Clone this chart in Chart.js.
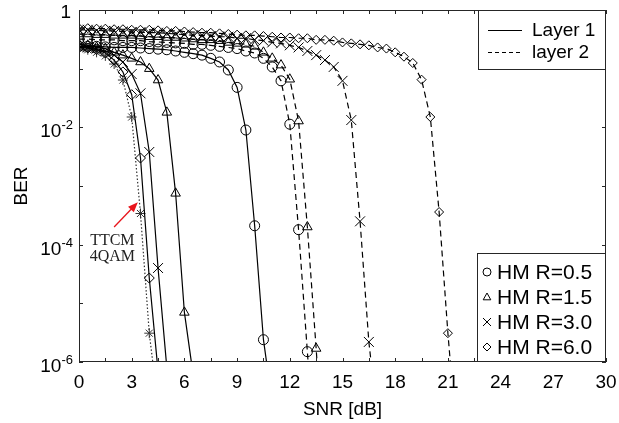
<!DOCTYPE html>
<html>
<head>
<meta charset="utf-8">
<script src="https://cdn.jsdelivr.net/npm/chart.js@4.4.1/dist/chart.umd.min.js"></script>
<style>
  html, body { margin: 0; padding: 0; background: #fff; }
  canvas { display: block; }
</style>
</head>
<body>
<canvas id="berChart" width="619" height="423"></canvas>
<script>
// SNR grid [dB] - one marker every 0.5 dB
const snr = [0,0.5,1,1.5,2,2.5,3,3.5,4,4.5,5,5.5,6,6.5,7,7.5,8,8.5,9,9.5,10,10.5,
             11,11.5,12,12.5,13,13.5,14,14.5,15,15.5,16,16.5,17,17.5,18,18.5,19,19.5,20,20.5,21,21.5];

// layer 1 (solid)
const l1R05 = [0.24,0.24,0.24,0.235,0.23,0.23,0.23,0.225,0.22,0.215,0.21,0.20,0.19,0.18,0.17,0.15,0.13,0.095,0.048,0.009,2.1e-4,2.4e-6,2e-7];
const l1R15 = [0.26,0.25,0.23,0.22,0.19,0.17,0.15,0.13,0.10,0.064,0.018,7.5e-4,7e-6,6e-7];
const l1R30 = [0.24,0.23,0.22,0.20,0.17,0.13,0.081,0.038,3.8e-3,4e-5,8e-7];
const l1R60 = [0.23,0.225,0.21,0.185,0.14,0.088,0.036,3e-3,2.7e-5,7e-7];

// layer 2 (dashed)
const l2R05 = [0.32,0.32,0.31,0.31,0.31,0.30,0.30,0.30,0.29,0.285,0.28,0.275,0.27,0.26,0.26,0.25,0.24,0.23,0.22,0.20,0.185,0.15,0.107,0.062,0.0113,1.8e-4,1.5e-6,1e-8];
const l2R15 = [0.39,0.39,0.38,0.38,0.37,0.37,0.37,0.36,0.35,0.35,0.34,0.34,0.33,0.32,0.31,0.31,0.30,0.28,0.27,0.26,0.24,0.19,0.15,0.115,0.066,0.0128,2.0e-4,1.7e-6,1e-8];
const l2R30 = [0.46,0.46,0.45,0.44,0.44,0.43,0.42,0.42,0.41,0.41,0.40,0.39,0.38,0.37,0.37,0.36,0.35,0.35,0.33,0.33,0.31,0.30,0.28,0.27,0.25,0.23,0.20,0.17,0.14,0.107,0.062,0.0133,2.5e-4,2.2e-6,1e-7];
const l2R60 = [0.49,0.49,0.48,0.48,0.47,0.47,0.46,0.46,0.46,0.45,0.44,0.44,0.43,0.42,0.41,0.41,0.40,0.39,0.38,0.37,0.37,0.36,0.35,0.34,0.34,0.33,0.33,0.31,0.31,0.30,0.28,0.27,0.26,0.25,0.23,0.22,0.19,0.16,0.125,0.065,0.015,3.6e-4,3.1e-6,5e-8];

// reference TTCM 4QAM (dotted)
const ttcm = [0.225,0.21,0.19,0.165,0.12,0.064,0.015,3.4e-4,3.1e-6,1.8e-7];

// axes
const xTicks     = [0,3,6,9,12,15,18,21,24,27,30];
const xTickMarks = [0,1.5,3,4.5,6,7.5,9,10.5,12,13.5,15,16.5,18,19.5,21,22.5,24,25.5,27,28.5,30];
const yTicks     = [1,1e-2,1e-4,1e-6];
const yTickText  = [["1",""],["10","-2"],["10","-4"],["10","-6"]];
const yTickMarks = [1,1e-1,1e-2,1e-3,1e-4,1e-5,1e-6];

const layerNames = ["Layer 1","layer 2"];
const rateNames  = ["HM R=0.5","HM R=1.5","HM R=3.0","HM R=6.0"];

const FONT  = '"Liberation Sans", Arial, Helvetica, sans-serif';
const SERIF = '"Liberation Serif", "Times New Roman", serif';
const AXIS  = "#262626";
const DASH  = [6,4];

const mk = (label, ys, pointStyle, radius, borderDash, color = "#000") => ({
  label,
  data: ys.map((v, i) => ({ x: snr[i], y: v })),
  borderColor: color,
  borderWidth: 1.2,
  borderDash,
  pointStyle,
  pointRadius: radius,
  pointBorderColor: color,
  pointBackgroundColor: "rgba(0,0,0,0)",
  pointBorderWidth: 1,
  tension: 0,
  fill: false
});

const datasets = [
  mk("HM R=0.5 layer 1", l1R05, "circle",   5,   []),
  mk("HM R=1.5 layer 1", l1R15, "triangle", 5.5, []),
  mk("HM R=3.0 layer 1", l1R30, "crossRot", 7,   []),
  mk("HM R=6.0 layer 1", l1R60, "rectRot",  5,   []),
  mk("HM R=0.5 layer 2", l2R05, "circle",   5,   DASH),
  mk("HM R=1.5 layer 2", l2R15, "triangle", 5.5, DASH),
  mk("HM R=3.0 layer 2", l2R30, "crossRot", 7,   DASH),
  mk("HM R=6.0 layer 2", l2R60, "rectRot",  4.5, DASH),
  mk("TTCM 4QAM",        ttcm,  "star",     5,   [1.5,2], "#333")
];

// small marker glyphs for the legend box
const glyph = (ctx, style, x, y, r) => {
  ctx.beginPath();
  if (style === "circle") ctx.arc(x, y, r, 0, Math.PI * 2);
  else if (style === "triangle") {
    ctx.moveTo(x, y - r); ctx.lineTo(x + r * 0.95, y + r * 0.7); ctx.lineTo(x - r * 0.95, y + r * 0.7); ctx.closePath();
  } else if (style === "crossRot") {
    ctx.moveTo(x - r, y - r); ctx.lineTo(x + r, y + r); ctx.moveTo(x + r, y - r); ctx.lineTo(x - r, y + r);
  } else if (style === "rectRot") {
    ctx.moveTo(x, y - r); ctx.lineTo(x + r, y); ctx.lineTo(x, y + r); ctx.lineTo(x - r, y); ctx.closePath();
  }
  ctx.stroke();
};

const decor = {
  id: "decor",
  beforeDraw(chart) {
    const ctx = chart.ctx;
    ctx.save(); ctx.fillStyle = "#fff"; ctx.fillRect(0, 0, chart.width, chart.height); ctx.restore();
  },
  afterDraw(chart) {
    const { ctx, chartArea: ca, scales: { x, y } } = chart;
    ctx.save();

    // frame + inward ticks
    ctx.strokeStyle = AXIS; ctx.lineWidth = 1;
    ctx.strokeRect(ca.left + 0.5, ca.top + 0.5, ca.right - ca.left - 1, ca.bottom - ca.top - 1);
    ctx.beginPath();
    xTickMarks.forEach(v => {
      const px = Math.round(x.getPixelForValue(v)) + 0.5;
      ctx.moveTo(px, ca.bottom); ctx.lineTo(px, ca.bottom - 4);
      ctx.moveTo(px, ca.top);    ctx.lineTo(px, ca.top + 4);
    });
    yTickMarks.forEach(v => {
      const py = Math.round(y.getPixelForValue(v)) + 0.5;
      ctx.moveTo(ca.left, py);  ctx.lineTo(ca.left + 4, py);
      ctx.moveTo(ca.right, py); ctx.lineTo(ca.right - 4, py);
    });
    ctx.stroke();

    // y tick labels with superscripts
    ctx.fillStyle = "#000"; ctx.textAlign = "right"; ctx.textBaseline = "alphabetic";
    yTicks.forEach((v, i) => {
      const py = y.getPixelForValue(v);
      const [base, sup] = yTickText[i];
      const xr = ca.left - 6;
      if (!sup) { ctx.font = `19px ${FONT}`; ctx.fillText(base, xr - 2, py + 8); return; }
      ctx.font = `13px ${FONT}`;
      const w = ctx.measureText(sup).width;
      ctx.fillText(sup, xr, py + 2);
      ctx.font = `19px ${FONT}`;
      ctx.fillText(base, xr - w, py + 10);
    });

    // axis titles
    ctx.font = `19px ${FONT}`; ctx.textAlign = "center"; ctx.textBaseline = "middle";
    ctx.fillText("SNR [dB]", (ca.left + ca.right) / 2, 410);
    ctx.save(); ctx.translate(22, (ca.top + ca.bottom) / 2); ctx.rotate(-Math.PI / 2);
    ctx.fillText("BER", 0, 0); ctx.restore();

    // legend: line styles
    const l1 = { l: 478, t: ca.top, r: ca.right, b: 70 };
    ctx.fillStyle = "#fff"; ctx.fillRect(l1.l, l1.t, l1.r - l1.l, l1.b - l1.t);
    ctx.strokeStyle = AXIS; ctx.strokeRect(l1.l + 0.5, l1.t + 0.5, l1.r - l1.l - 1, l1.b - l1.t - 1);
    ctx.font = `19px ${FONT}`; ctx.textAlign = "left"; ctx.fillStyle = "#000";
    layerNames.forEach((n, i) => {
      const ry = 30 + i * 22;
      ctx.strokeStyle = "#000"; ctx.setLineDash(i ? [4,3] : []);
      ctx.beginPath(); ctx.moveTo(488, ry + 0.5); ctx.lineTo(522, ry + 0.5); ctx.stroke();
      ctx.setLineDash([]);
      ctx.fillText(n, 532, ry + 1);
    });

    // legend: markers
    const l2 = { l: 477, t: 253, r: ca.right, b: ca.bottom };
    ctx.fillStyle = "#fff"; ctx.fillRect(l2.l, l2.t, l2.r - l2.l, l2.b - l2.t);
    ctx.strokeStyle = AXIS; ctx.strokeRect(l2.l + 0.5, l2.t + 0.5, l2.r - l2.l - 1, l2.b - l2.t - 1);
    const styles = ["circle","triangle","crossRot","rectRot"];
    ctx.fillStyle = "#000"; ctx.font = `21px ${FONT}`;
    rateNames.forEach((n, i) => {
      const ry = 272 + i * 25;
      ctx.strokeStyle = "#000";
      glyph(ctx, styles[i], 487, ry, 4);
      ctx.fillText(n, 497, ry + 1);
    });

    // TTCM annotation
    const tx = x.getPixelForValue(2.0), ty = y.getPixelForValue(2.0e-4);
    const hx = x.getPixelForValue(3.35), hy = y.getPixelForValue(5.3e-4);
    const ang = Math.atan2(hy - ty, hx - tx);
    ctx.strokeStyle = "#e8141b"; ctx.fillStyle = "#e8141b"; ctx.lineWidth = 1.3;
    ctx.beginPath(); ctx.moveTo(tx, ty);
    ctx.lineTo(hx - 8 * Math.cos(ang), hy - 8 * Math.sin(ang)); ctx.stroke();
    ctx.beginPath(); ctx.moveTo(hx, hy);
    ctx.lineTo(hx - 10 * Math.cos(ang) + 4 * Math.sin(ang), hy - 10 * Math.sin(ang) - 4 * Math.cos(ang));
    ctx.lineTo(hx - 10 * Math.cos(ang) - 4 * Math.sin(ang), hy - 10 * Math.sin(ang) + 4 * Math.cos(ang));
    ctx.closePath(); ctx.fill();
    ctx.fillStyle = "#222"; ctx.font = `16px ${SERIF}`; ctx.textAlign = "center"; ctx.textBaseline = "middle";
    const nx = x.getPixelForValue(1.9);
    ctx.fillText("TTCM", nx, y.getPixelForValue(1.15e-4));
    ctx.fillText("4QAM", nx, y.getPixelForValue(6.3e-5));

    ctx.restore();
  }
};

new Chart(document.getElementById("berChart").getContext("2d"), {
  type: "line",
  data: { datasets },
  plugins: [decor],
  options: {
    responsive: false,
    animation: false,
    devicePixelRatio: 1,
    layout: { padding: { top: 10, right: 13, left: 0, bottom: 0 } },
    plugins: { legend: { display: false }, tooltip: { enabled: false } },
    scales: {
      x: {
        type: "linear", min: 0, max: 30,
        grid: { display: false }, border: { display: false },
        afterBuildTicks: s => { s.ticks = xTicks.map(v => ({ value: v })); },
        ticks: { font: { family: FONT, size: 19 }, color: "#000", padding: 1, maxRotation: 0, autoSkip: false },
        afterFit: s => { s.height = 61; s.paddingLeft = 0; s.paddingRight = 0; }
      },
      y: {
        type: "logarithmic", min: 1e-6, max: 1,
        grid: { display: false }, border: { display: false },
        ticks: { display: false },
        afterFit: s => { s.width = 79; s.paddingTop = 0; s.paddingBottom = 0; }
      }
    }
  }
});
</script>
</body>
</html>
